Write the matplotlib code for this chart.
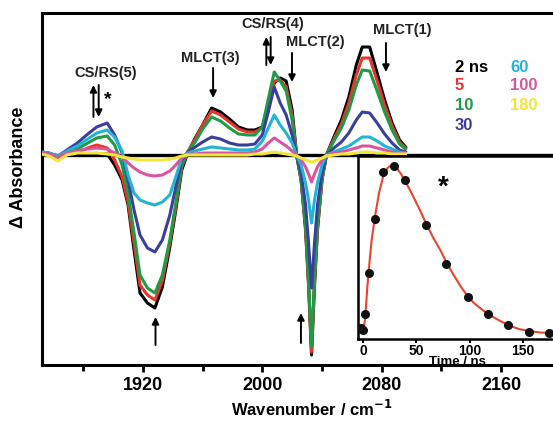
import matplotlib
matplotlib.use('Agg')
import matplotlib.pyplot as plt

plt.rcParams['font.family'] = ['Liberation Sans', 'DejaVu Sans']
plt.rcParams['font.weight'] = 'bold'

# wavenumber grid (cm-1)
wn = [1852, 1857, 1863, 1869, 1876, 1883, 1889, 1896,
      1901, 1906, 1910, 1914, 1918, 1923, 1928, 1933,
      1938, 1942, 1946, 1950, 1955, 1960, 1966, 1972,
      1978, 1984, 1990, 1995, 2000, 2004, 2008, 2012,
      2016, 2020, 2023, 2026, 2029, 2031, 2033, 2035,
      2037, 2040, 2043, 2048, 2053, 2058, 2063, 2067,
      2072, 2077, 2082, 2087, 2092, 2096]

# delta absorbance (arb. units) at each delay
da_2 = [2, 1, -2, 0, 0, 1, 1, 1,
        -10, -25, -50, -95, -138, -148, -153, -132,
        -92, -55, -15, 2, 17, 30, 47, 43,
        36, 28, 25, 25, 28, 50, 72, 77,
        74, 45, 0, -25, -75, -130, -200, -130,
        -75, -25, 0, 18, 35, 58, 90, 108,
        108, 82, 55, 32, 15, 8]
da_5 = [2, 1, -2, 1, 3, 7, 10, 7,
        -5, -22, -47, -88, -130, -140, -145, -126,
        -88, -52, -12, 3, 16, 30, 44, 40,
        33, 26, 23, 23, 27, 50, 74, 75,
        68, 40, 0, -25, -73, -128, -197, -128,
        -73, -25, 0, 16, 31, 52, 80, 97,
        97, 74, 50, 29, 13, 7]
da_10 = [2, 1, -2, 2, 6, 12, 17, 19,
         10, -10, -38, -78, -120, -133, -138, -120,
         -85, -48, -10, 3, 13, 26, 38, 34,
         27, 21, 20, 20, 28, 56, 83, 74,
         64, 35, 0, -24, -70, -125, -192, -125,
         -70, -24, 0, 14, 27, 45, 70, 85,
         84, 64, 43, 25, 11, 6]
da_30 = [3, 2, -1, 5, 12, 21, 28, 32,
         20, 2, -25, -55, -80, -93, -97, -85,
         -60, -32, -5, 3, 8, 13, 18, 16,
         12, 10, 10, 11, 20, 43, 68, 52,
         40, 20, 0, -18, -50, -88, -133, -88,
         -50, -18, 0, 7, 13, 22, 35, 43,
         42, 32, 21, 12, 5, 3]
da_60 = [3, 2, -1, 4, 9, 16, 22, 25,
         18, 4, -20, -38, -45, -48, -50, -47,
         -40, -22, -3, 2, 4, 6, 8, 7,
         6, 5, 5, 6, 14, 27, 40, 30,
         22, 12, 0, -10, -28, -45, -68, -45,
         -28, -10, 0, 3, 6, 9, 14, 18,
         18, 14, 9, 6, 3, 2]
da_100 = [2, 1, -2, 2, 4, 6, 7, 6,
          2, -2, -8, -13, -17, -20, -21, -20,
          -16, -10, -3, 1, 1, 2, 2, 2,
          2, 2, 2, 3, 6, 12, 17, 13,
          9, 4, 0, -5, -12, -19, -27, -19,
          -12, -5, 0, 2, 3, 5, 7, 9,
          9, 7, 5, 3, 2, 1]
da_180 = [1, -1, -6, 0, 2, 2, 2, 1,
          0, -2, -3, -4, -5, -5, -5, -5,
          -4, -3, -1, 0, 0, 0, 0, 0,
          0, 0, 0, 1, 1, 2, 3, 2,
          1, 0, -1, -3, -5, -6, -7, -6,
          -5, -3, -1, 0, 1, 1, 2, 3,
          3, 2, 2, 1, 1, 1]

delays = ['2 ns', '5', '10', '30', '60', '100', '180']
colors = ['#000000', '#e8352b', '#1f9a45', '#3b3f9c', '#22b4d4', '#d9559f', '#f2e63c']

# inset kinetics (CS/RS(5) band, marked *)
t_pts = [-2, 0, 2, 6, 11, 19, 29, 39, 59, 78, 98, 117, 136, 156, 174]
a_pts = [5, 3, 19, 60, 114, 161, 167, 153, 108, 69, 36, 19, 8, 1, 0]
t_fit = [-5, 0, 2, 4, 6, 8, 11, 15, 19, 23, 27, 31, 35, 39, 45, 52, 59, 66,
         73, 78, 85, 92, 98, 105, 117, 127, 136, 146, 156, 166, 176, 185]
a_fit = [0, 0, 15, 45, 70, 92, 115, 140, 157, 165, 168, 166, 160, 153, 141,
         126, 110, 95, 82, 71, 58, 46, 37, 29, 19, 13, 8, 4, 2, 0.5, 0, 0]

fig = plt.figure(figsize=(5.53, 4.22), dpi=100)
ax = fig.add_axes([42 / 553, 57 / 422, 514 / 553, 352 / 422])

ax.axhline(0, color='k', lw=2.4, zorder=1)
spectra = [da_2, da_5, da_10, da_30, da_60, da_100, da_180]
for i, (y, c) in enumerate(zip(spectra, colors)):
    ax.plot(wn, y, color=c, lw=2.2, zorder=2 + i)

ax.set_xlim(1852.3, 2196.9)
ax.set_ylim(-210, 142)
ax.set_xticks([1920, 2000, 2080, 2160])
ax.set_xticks([1880, 1960, 2040, 2120], minor=True)
ax.set_yticks([])
ax.tick_params(axis='x', which='major', direction='out', length=5, width=2,
               labelsize=13, pad=4)
ax.tick_params(axis='x', which='minor', direction='out', length=4, width=2)
for s in ax.spines.values():
    s.set_linewidth(2.2)
ax.spines['right'].set_visible(False)
ax.set_xlabel('Wavenumber / cm$^{\\mathbf{-1}}$', fontsize=12, fontweight='bold')
ax.xaxis.set_label_coords(0.525, -0.095)
ax.set_ylabel('\u0394 Absorbance', fontsize=13, fontweight='bold')
ax.yaxis.set_label_coords(-0.03, 0.5625)

# band labels
lab_kw = dict(fontsize=10.5, fontweight='bold', color='#222222', ha='center', va='center')
ax.text(1895.2, 82, 'CS/RS(5)', **lab_kw)
ax.text(1964.9, 97, 'MLCT(3)', **lab_kw)
ax.text(2007.1, 131, 'CS/RS(4)', **lab_kw)
ax.text(2035.3, 113, 'MLCT(2)', **lab_kw)
ax.text(2093.6, 125, 'MLCT(1)', **lab_kw)


def arrow(x, y0, y1):
    ax.annotate('', xy=(x, y1), xytext=(x, y0),
                arrowprops=dict(arrowstyle='-|>', lw=1.4, color='k',
                                mutation_scale=10, shrinkA=0, shrinkB=0))


arrow(1886.8, 38, 70)
arrow(1890.3, 70, 38)
ax.text(1896.5, 55, '*', fontsize=14, fontweight='bold', ha='center', va='center')
arrow(1967, 87, 57)
arrow(2002.7, 90, 118)
arrow(2005.6, 118, 90)
arrow(2019.9, 102, 73)
arrow(2082.9, 112, 83)
arrow(1928.4, -190, -162)
arrow(2025.9, -188, -158)

# legend as coloured text
leg_x = [2129.2, 2129.2, 2129.2, 2129.2, 2166.0, 2166.0, 2166.0]
leg_y = [88, 69, 49, 29, 88, 69, 49]
for lab, c, x, y in zip(delays, colors, leg_x, leg_y):
    ax.text(x, y, lab, color=c, fontsize=12, fontweight='bold', va='center')

# inset
ins = fig.add_axes([358 / 553, 83 / 422, 198 / 553, 183 / 422])
ins.plot(t_fit, a_fit, color='#e8452c', lw=1.5, zorder=2)
ins.plot(t_pts, a_pts, 'o', color='#111111', ms=5.5, zorder=3)
ins.set_xlim(-4.7, 181)
ins.set_ylim(-6, 177)
ins.set_xticks([0, 50, 100, 150])
ins.set_yticks([])
ins.tick_params(axis='x', direction='out', length=3, width=1.5, labelsize=10, pad=0.5)
for s in ins.spines.values():
    s.set_linewidth(1.8)
ins.spines['right'].set_visible(False)
ins.set_xlabel('Time / ns', fontsize=9.5, fontweight='bold', labelpad=-1)
ins.text(75, 145, '*', fontsize=20, fontweight='bold', ha='center', va='center')

fig.savefig('out.png', dpi=100)
